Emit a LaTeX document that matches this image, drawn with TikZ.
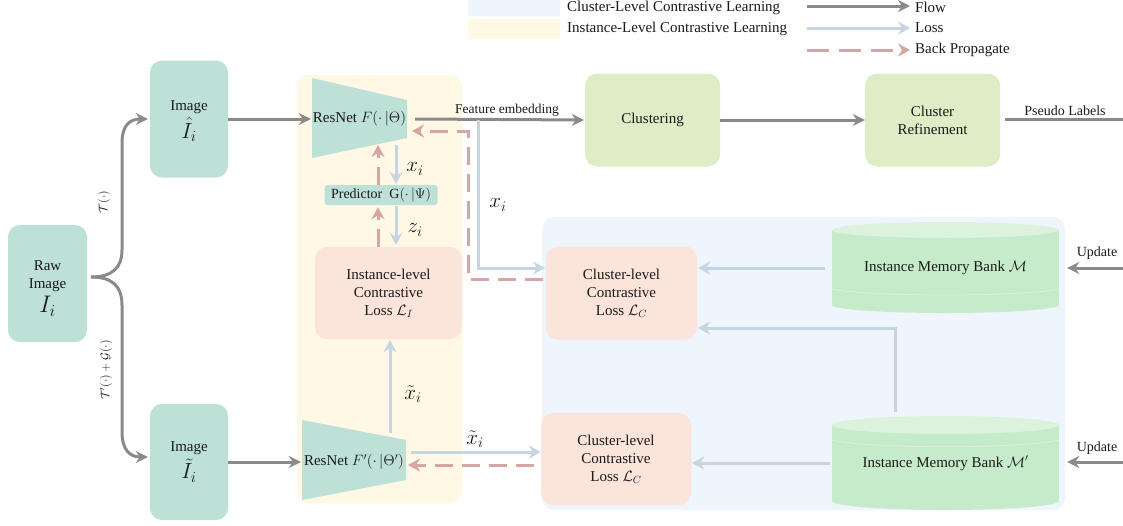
\RequirePackage{fix-cm}
\documentclass[tikz,border=0pt]{standalone}
\usepackage{fontspec}
\setmainfont{Liberation Serif}
\usetikzlibrary{arrows.meta,calc}
\definecolor{tealbox}{HTML}{BDE0D7}
\definecolor{greenbox}{HTML}{DDEDC5}
\definecolor{peach}{HTML}{FBE4DA}
\definecolor{memgreen}{HTML}{C6EBCA}
\definecolor{memtop}{HTML}{DCF2DD}
\definecolor{ybg}{HTML}{FFF8E4}
\definecolor{bbg}{HTML}{EEF5FC}
\definecolor{flowgray}{HTML}{8A8A8A}
\definecolor{lossblue}{HTML}{C6D5E1}
\definecolor{backred}{HTML}{D7A5A5}
\definecolor{txt}{HTML}{1A1A1A}
\begin{document}
\begin{tikzpicture}[x=1pt,y=-1pt,
  every node/.style={text=txt},
  fs/.style={font=\fontsize{15}{18}\selectfont},
  box/.style={fs, rounded corners=12pt, align=center, inner sep=0pt},
  flow/.style={draw=flowgray, line width=3pt, -{Stealth[length=12pt,width=12pt,inset=4pt]}},
  loss/.style={draw=lossblue, line width=3pt, -{Stealth[length=12pt,width=13pt,inset=4pt]}},
  back/.style={draw=backred, line width=3pt, dash pattern=on 18pt off 9pt, -{Stealth[length=12pt,width=13pt,inset=4pt]}},
  lbl/.style={font=\fontsize{14}{14}\selectfont, inner sep=0pt},
  mlbl/.style={font=\fontsize{21}{21}\selectfont, inner sep=0pt},
  rlbl/.style={font=\fontsize{12}{12}\selectfont, inner sep=0pt, rotate=90},
]
\useasboundingbox (0,0) rectangle (1123,525);
\fill[white] (0,0) rectangle (1123,525);

% backgrounds
\fill[ybg, rounded corners=12pt] (297,75) rectangle (462,503);
\fill[bbg, rounded corners=12pt] (542,217) rectangle (1065,510);

% legend
\fill[bbg] (468,0) rectangle (560,16);
\fill[ybg] (468,19) rectangle (560,39);
\node[fs, anchor=west, inner sep=0pt] (lg1) at (567,8) {Cluster-Level\ Contrastive\ Learning};
\node[fs, anchor=west, inner sep=0pt] (lg2) at (567,29) {Instance-Level\ Contrastive\ Learning};
\coordinate (lfa) at (807,6); \coordinate (lfb) at (910,6);
\coordinate (lla) at (807,28); \coordinate (llb) at (910,28);
\coordinate (lba) at (807,50); \coordinate (lbb) at (910,50);
\draw[flow] (lfa) -- (lfb);
\draw[loss] (lla) -- (llb);
\draw[back, dash pattern=on 22pt off 10pt] (lba) -- (lbb);
\node[fs, anchor=west, inner sep=0pt] (lgf) at (915,7) {Flow};
\node[fs, anchor=west, inner sep=0pt] (lgl) at (915,28) {Loss};
\node[fs, anchor=west, inner sep=0pt] (lgb) at (915,50) {Back Propagate};

% left nodes
\node[box, fill=tealbox, minimum width=79pt, minimum height=117pt] (raw) at (47.5,283.5) {};
\node[box] (rawtxt) at ([yshift=-5pt]raw.center)
  {Raw\\Image\\[3pt]{\fontsize{24}{24}\selectfont$I_i$}};
\node[box, fill=tealbox, minimum width=78pt, minimum height=117pt] (img1) at (189,119) {};
\node[box] (img1txt) at ([yshift=-2pt]img1.center)
  {Image\\[3pt]{\fontsize{22}{22}\selectfont$\hat{I}_i$}};
\node[box, fill=tealbox, minimum width=78pt, minimum height=116pt] (img2) at (189,462) {};
\node[box] (img2txt) at (img2.center)
  {Image\\[3pt]{\fontsize{22}{22}\selectfont$\tilde{I}_i$}};

\coordinate (fork) at (91,277);
\draw[flow, shorten >=2pt] (fork) .. controls (112,277) and (122,268) .. (122,250) -- (122,143)
  .. controls (122,125) and (130,119) .. (img1.west);
\draw[flow, shorten >=2pt] (fork) .. controls (112,277) and (122,286) .. (122,305) -- (122,432)
  .. controls (122,450) and (130,457) .. ([yshift=5pt]img2.west);
\node[rlbl] (tl1) at (104,202) {$\mathcal{T}(\cdot)$};
\node[rlbl] (tl2) at (106,370) {$\mathcal{T}'(\cdot)+\mathcal{G}(\cdot)$};

% ResNets
\fill[tealbox] (312,78) -- (407,100) -- (407,138) -- (312,158) -- cycle;
\node[fs, inner sep=0pt, minimum width=95pt, minimum height=80pt] (res1) at (359.5,119) {ResNet $F(\cdot\,|\Theta)$};
\fill[tealbox] (302,420) -- (406,440) -- (406,480) -- (302,500) -- cycle;
\node[fs, inner sep=0pt, minimum width=104pt, minimum height=80pt] (res2) at (354,462) {ResNet $F'(\cdot\,|\Theta')$};

\draw[flow, shorten >=1pt] (img1.east) -- (res1.west);
\draw[flow, shorten >=1pt] (img2.east) -- (res2.west);

% predictor and instance loss
\node[font=\fontsize{14}{14}\selectfont, fill=tealbox, rounded corners=3pt, minimum width=113pt, minimum height=20pt, inner sep=0pt] (pred) at (381,195) {Predictor\ \ G$(\cdot\,|\Psi)$};
\node[box, fill=peach, minimum width=147pt, minimum height=92pt] (inst) at (388.5,293)
  {Instance-level\\Contrastive\\Loss $\mathcal{L}_I$};

\coordinate (xa) at (396,145);
\coordinate (bpa) at (378,245);
\coordinate (bpb) at (378,145);
\draw[loss, shorten >=1pt] (xa) -- (xa |- pred.north);
\draw[loss, shorten <=1pt, shorten >=2pt] (pred.south -| xa) -- (inst.north -| xa);
\draw[back, shorten >=2pt] (inst.north -| bpa) -- (pred.south -| bpa);
\draw[back] (pred.north -| bpa) -- (bpb);
\node[mlbl] (lx1) at (415,169) {$x_i$};
\node[mlbl] (lz1) at (415,230) {$z_i$};

\coordinate (xt) at (390,433);
\draw[loss, shorten >=1pt] (xt) -- (xt |- inst.south);
\node[mlbl] (lx3) at (413,394) {$\tilde{x}_i$};

% top flow
\node[box, fill=greenbox, minimum width=135pt, minimum height=93pt] (clus) at (652.5,120) {Clustering};
\node[box, fill=greenbox, minimum width=135pt, minimum height=93pt] (refine) at (932.5,120) {Cluster\\Refinement};
\draw[flow, shorten >=1pt] ([xshift=8pt]res1.east) -- (clus.west);
\draw[flow] (clus.east) -- (refine.west);
\coordinate (pend) at (1123,119);
\draw[flow, -] ([xshift=5pt]refine.east |- pend) -- (pend);
\node[font=\fontsize{13.5}{13.5}\selectfont, inner sep=0pt] (fe) at (507,110) {Feature embedding};
\node[lbl] (pl) at (1065,111) {Pseudo Labels};

% cluster losses
\node[box, fill=peach, minimum width=151pt, minimum height=93pt] (cl1) at (621.5,293)
  {Cluster-level\\Contrastive\\Loss $\mathcal{L}_C$};
\node[box, fill=peach, minimum width=150pt, minimum height=92pt] (cl2) at (616,459)
  {Cluster-level\\Contrastive\\Loss $\mathcal{L}_C$};

\coordinate (fb) at (478,120);
\coordinate (c1in) at (546,268);
\draw[loss, shorten >=1pt] (fb) |- (c1in);
\node[mlbl] (lx2) at (498,205) {$x_i$};
\coordinate (bk1) at (546,279);
\coordinate (bk2) at (468,131);
\coordinate (bk3) at (412,131);
\draw[back, shorten <=3pt] (bk1) -| (bk2) -- (bk3);

\coordinate (xr) at (411,452);
\draw[loss] (xr) -- (xr -| cl2.west);
\node[mlbl] (lx4) at (475,439) {$\tilde{x}_i$};
\coordinate (br) at (408,465);
\draw[back, shorten <=7pt] (br -| cl2.west) -- (br);

% memory banks
\fill[memgreen] (832,230) rectangle (1059,305);
\fill[memgreen] (945.5,305) ellipse [x radius=113.5pt, y radius=8pt];
\fill[memtop] (945.5,230) ellipse [x radius=113.5pt, y radius=8pt];
\draw[white, opacity=0.35, line width=0.8pt] (832,289) .. controls (870,297) and (1021,297) .. (1059,289);
\node[fs, inner sep=0pt, minimum width=227pt, minimum height=91pt] (mem1) at (945.5,268) {Instance Memory Bank $\mathcal{M}$};

\fill[memgreen] (832,425) rectangle (1059,501);
\fill[memgreen] (945.5,501) ellipse [x radius=113.5pt, y radius=9pt];
\fill[memtop] (945.5,425) ellipse [x radius=113.5pt, y radius=9pt];
\draw[white, opacity=0.35, line width=0.8pt] (832,440) .. controls (870,449) and (1021,449) .. (1059,440);
\node[fs, inner sep=0pt, minimum width=227pt, minimum height=94pt] (mem2) at (945.5,463) {Instance Memory Bank $\mathcal{M}'$};

\draw[loss, shorten >=1pt] ([xshift=-7pt]mem1.west) -- (mem1.west -| cl1.east);
\coordinate (m2up) at (895,412);
\coordinate (c1low) at (697,328);
\draw[loss, shorten >=1pt] (m2up) |- (c1low);
\draw[loss, shorten >=1pt] ([xshift=-2pt]mem2.west) -- (mem2.west -| cl2.east);

\coordinate (u1) at (1123,268);
\coordinate (u2) at (1123,462);
\draw[flow] (u1) -- ([xshift=8pt]mem1.east |- u1);
\draw[flow] (u2) -- ([xshift=8pt]mem2.east |- u2);
\node[lbl] (up1) at (1097,253) {Update};
\node[lbl] (up2) at (1097,448) {Update};
\end{tikzpicture}
\end{document}
